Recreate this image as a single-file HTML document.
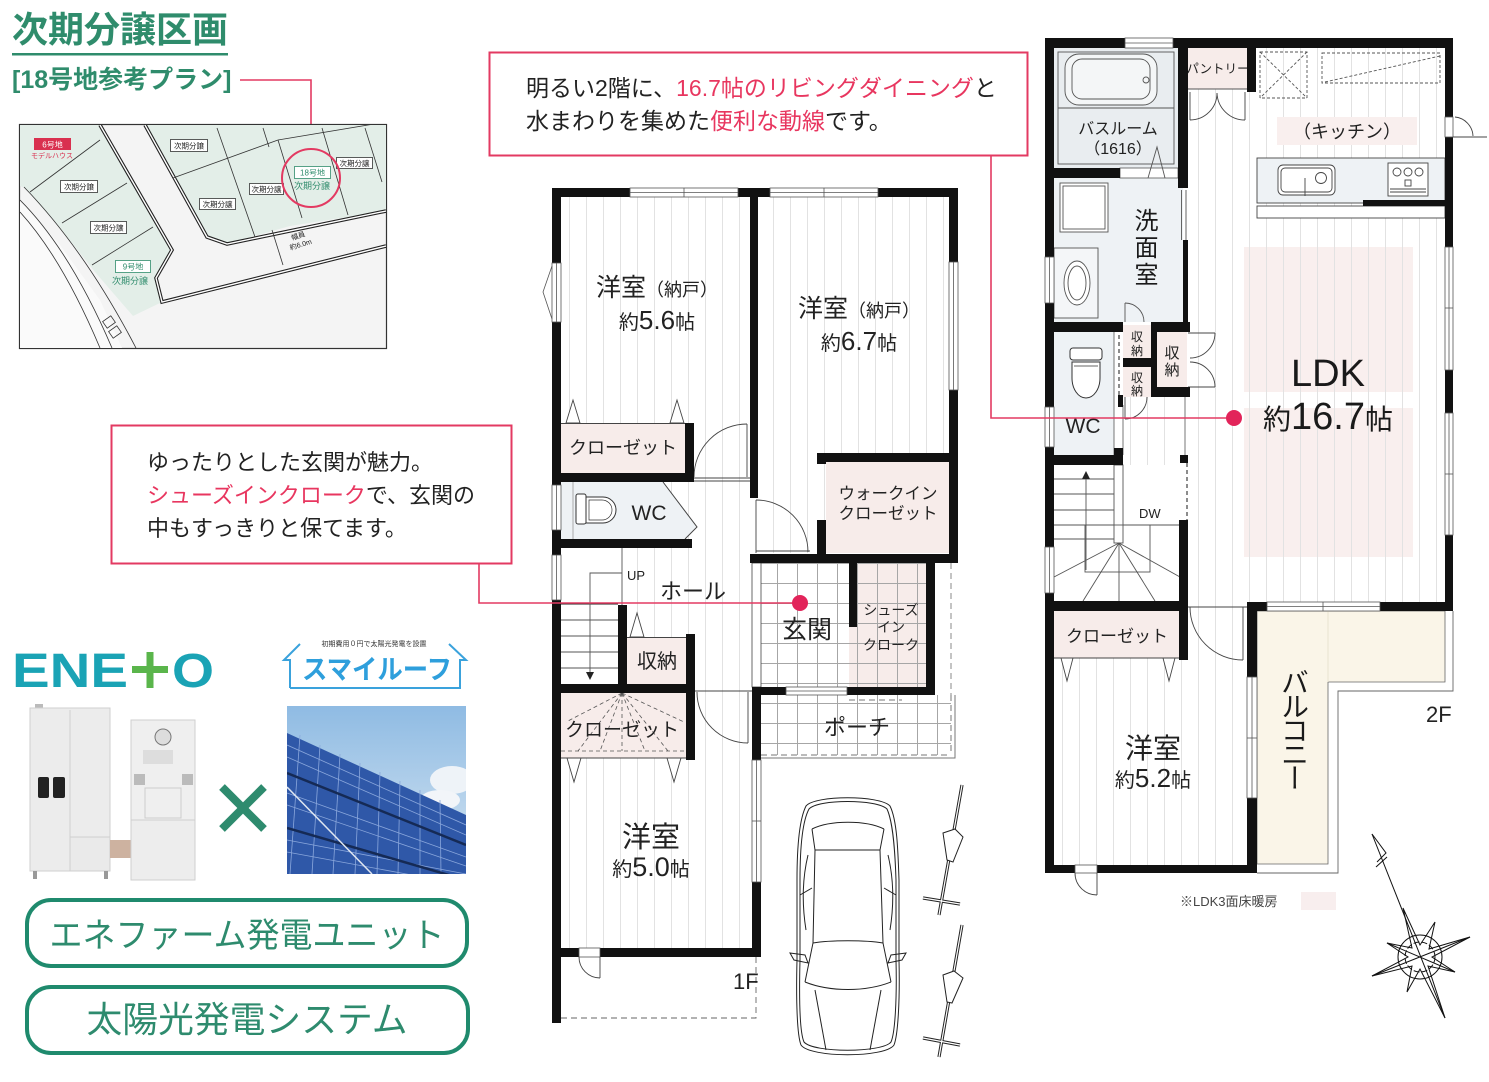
<!DOCTYPE html>
<html><head><meta charset="utf-8">
<style>
html,body{margin:0;padding:0;background:#fff;}
body{width:1489px;height:1082px;position:relative;overflow:hidden;font-family:"Liberation Sans","Noto Sans CJK JP",sans-serif;}
svg{position:absolute;left:0;top:0;}
.v{position:absolute;writing-mode:vertical-rl;font-family:"Liberation Sans","Noto Sans CJK JP",sans-serif;color:#1a1a1a;line-height:1;white-space:nowrap;}
</style></head><body>
<svg width="1489" height="1082" viewBox="0 0 1489 1082" style="font-family:'Liberation Sans','Noto Sans CJK JP',sans-serif">
<defs>
<pattern id="fl" patternUnits="userSpaceOnUse" width="17" height="10" x="0" y="0"><line x1="8.5" y1="0" x2="8.5" y2="10" stroke="#e2e2e2" stroke-width="1"/></pattern>
<pattern id="tile" patternUnits="userSpaceOnUse" width="20" height="20" x="757" y="563"><path d="M0,0.5H20M0.5,0V20" stroke="#a6a6a6" stroke-width="1" fill="none"/></pattern>
<linearGradient id="sky" x1="0" y1="0" x2="0" y2="1"><stop offset="0" stop-color="#8fbbe3"/><stop offset="1" stop-color="#d5e5f2"/></linearGradient>
<clipPath id="mapclip"><rect x="20" y="125" width="366" height="223"/></clipPath>
<clipPath id="solclip"><rect x="287" y="706" width="179" height="168"/></clipPath>
</defs>

<!-- ===== Title ===== -->
<text x="12" y="42" font-size="36" font-weight="bold" fill="#2f8c6c">次期分譲区画</text>
<rect x="12" y="53" width="216" height="2.5" fill="#2f8c6c"/>
<text x="12" y="88" font-size="25" font-weight="bold" fill="#2f8c6c">[18号地参考プラン]</text>
<polyline points="240,80 311,80 311,149" fill="none" stroke="#e33a62" stroke-width="1.6"/>

<!-- ===== Map ===== -->
<rect x="19.5" y="124.5" width="367" height="224" fill="#f4f4f4" stroke="#333" stroke-width="1.2"/>
<g clip-path="url(#mapclip)">
<polygon points="20,125 100,125 172,250 156,278 162,302 133,316 95,272 60,228 25,188 20,186" fill="#e3eee8"/>
<polygon points="145,125 386,125 386,211 290,226 227,244 207,237" fill="#e3eee8"/>
<polygon points="20,200 60,245 100,300 122,348 20,348" fill="#fafafa"/>
<g fill="none" stroke="#222">
<polyline points="100,125 172,250 156,278 162,302 386,246" stroke-width="3.6"/>
<polyline points="145,125 207,237 227,244 386,211" stroke-width="3.6"/>
</g>
<g fill="none" stroke="#fff">
<polyline points="100,125 172,250 156,278 162,302 386,246" stroke-width="1.4"/>
<polyline points="145,125 207,237 227,244 386,211" stroke-width="1.4"/>
</g>
<g fill="none" stroke="#333" stroke-width="0.8">
<path d="M24,187 Q85,250 136,348"/>
<path d="M20,200 Q70,250 112,348"/>
<path d="M20,212 Q62,258 100,348"/>
<line x1="30" y1="192" x2="100" y2="140"/>
<line x1="62" y1="223" x2="127" y2="183"/>
<line x1="92" y1="265" x2="153" y2="227"/>
<line x1="173" y1="178" x2="278" y2="140"/>
<line x1="278" y1="140" x2="386" y2="122"/>
<line x1="217" y1="128" x2="255" y2="237"/>
<line x1="263" y1="128" x2="269" y2="147"/>
<line x1="278" y1="140" x2="302" y2="218"/>
<line x1="322" y1="128" x2="348" y2="215"/>
<line x1="365" y1="128" x2="382" y2="182"/>
<line x1="272" y1="230" x2="283" y2="265"/>
<rect x="104" y="318" width="10" height="8" transform="rotate(-35 109 322)"/>
<rect x="110" y="328" width="10" height="8" transform="rotate(-35 115 332)"/>
</g>
</g>
<g font-size="7.5" text-anchor="middle" fill="#222">
<rect x="34" y="138" width="37" height="12" fill="#d9304f"/>
<text x="52.5" y="147.5" fill="#fff" font-size="8">6号地</text>
<text x="52" y="158" fill="#d9304f" font-size="7">モデルハウス</text>
<rect x="60.5" y="180.5" width="37" height="12" fill="#fff" stroke="#333" stroke-width="0.8"/><text x="79" y="189.5">次期分譲</text>
<rect x="90.5" y="221.5" width="36" height="12" fill="#fff" stroke="#333" stroke-width="0.8"/><text x="108.5" y="230.5">次期分譲</text>
<rect x="170.5" y="139.5" width="37" height="12" fill="#fff" stroke="#333" stroke-width="0.8"/><text x="189" y="148.5">次期分譲</text>
<rect x="199.5" y="198.5" width="36" height="11" fill="#fff" stroke="#333" stroke-width="0.8"/><text x="217.5" y="207">次期分譲</text>
<rect x="249.5" y="183.5" width="34" height="11" fill="#fff" stroke="#333" stroke-width="0.8"/><text x="266.5" y="192">次期分譲</text>
<rect x="336.5" y="157.5" width="36" height="11" fill="#fff" stroke="#333" stroke-width="0.8"/><text x="354.5" y="166">次期分譲</text>
<rect x="294.5" y="166.5" width="36" height="12" fill="#fff" stroke="#2f8c6c" stroke-width="0.8"/><text x="312.5" y="175.5" fill="#2f8c6c" font-size="8">18号地</text>
<text x="312" y="189" fill="#2f8c6c" font-size="9">次期分譲</text>
<rect x="115.5" y="260.5" width="35" height="12" fill="#fff" stroke="#2f8c6c" stroke-width="0.8"/><text x="133" y="269.5" fill="#2f8c6c" font-size="8">9号地</text>
<text x="130" y="284" fill="#2f8c6c" font-size="9">次期分譲</text>
<g transform="rotate(-17 300 242)"><text x="300" y="238" font-size="7">幅員</text><text x="300" y="247" font-size="7">約6.0m</text></g>
</g>
<circle cx="311" cy="178" r="29" fill="none" stroke="#e33a62" stroke-width="2"/>

<!-- ===== Callouts ===== -->
<rect x="489.5" y="52.5" width="538" height="103" fill="#fff" stroke="#e33a62" stroke-width="2"/>
<text x="526" y="96" font-size="23" fill="#222">明るい2階に、<tspan fill="#e8365f">16.7帖のリビングダイニング</tspan>と</text>
<text x="526" y="129" font-size="23" fill="#222">水まわりを集めた<tspan fill="#e8365f">便利な動線</tspan>です。</text>

<rect x="111.5" y="425.5" width="400" height="138" fill="#fff" stroke="#e33a62" stroke-width="2"/>
<text x="147" y="470" font-size="22" fill="#222">ゆったりとした玄関が魅力。</text>
<text x="147" y="503" font-size="22" fill="#222"><tspan fill="#e8365f">シューズインクローク</tspan>で、玄関の</text>
<text x="147" y="536" font-size="22" fill="#222">中もすっきりと保てます。</text>

<!-- ===== 1F floors ===== -->
<rect x="561" y="197" width="189" height="351" fill="url(#fl)"/>
<rect x="758" y="197" width="191" height="356" fill="url(#fl)"/>
<rect x="561" y="548" width="191" height="400" fill="url(#fl)"/>
<rect x="561" y="548" width="61" height="57" fill="#fff"/>

<!-- closet 5.6 -->
<rect x="561" y="423" width="124" height="50" fill="#f7ecea"/>
<line x1="561" y1="423.5" x2="685" y2="423.5" stroke="#444" stroke-width="1"/>
<g fill="#fff" stroke="#444" stroke-width="0.9">
<polygon points="566,423 573,400 580,423"/>
<polygon points="670,423 677,400 684,423"/>
</g>
<text x="623" y="454" font-size="18" text-anchor="middle" fill="#222">クローゼット</text>
<g fill="none" stroke="#444" stroke-width="0.9">
<path d="M747,424 A53,53 0 0 0 694,477"/>
<line x1="747" y1="424" x2="747" y2="477"/>
<line x1="694" y1="478" x2="750" y2="478"/>
<line x1="694" y1="481" x2="750" y2="481"/>
</g>

<!-- WC 1F -->
<polygon points="561,482 663,482 697,527 685,539 561,539" fill="#eef2f5"/>
<polyline points="663,482 697,527 685,539" fill="none" stroke="#444" stroke-width="1"/>
<line x1="573" y1="482" x2="573" y2="539" stroke="#999" stroke-width="0.8"/>
<rect x="576" y="494" width="10" height="30" rx="2" fill="#fff" stroke="#333"/>
<path d="M586,497 H603 A13,13 0 0 1 603,523 H586 Z" fill="#fff" stroke="#333"/>
<path d="M589,500 H602 A10,10 0 0 1 602,520 H589 Z" fill="none" stroke="#333" stroke-width="0.7"/>
<text x="649" y="520" font-size="21" text-anchor="middle" fill="#222">WC</text>

<!-- WIC -->
<rect x="826" y="462" width="123" height="91" fill="#f7ecea"/>
<text x="888" y="499" font-size="16.5" text-anchor="middle" fill="#222">ウォークイン</text>
<text x="888" y="519" font-size="16.5" text-anchor="middle" fill="#222">クローゼット</text>
<g fill="none" stroke="#444" stroke-width="0.9">
<path d="M756,500 A52,52 0 0 1 808,552"/>
<line x1="756" y1="500" x2="756" y2="553"/>
<line x1="756" y1="551" x2="810" y2="551"/>
</g>

<!-- stairs 1F -->
<rect x="561" y="605" width="57" height="79" fill="#fff"/>
<g stroke="#555" stroke-width="0.9">
<line x1="561" y1="604" x2="618" y2="604" stroke="#222"/>
<line x1="561" y1="620" x2="618" y2="620"/>
<line x1="561" y1="636" x2="618" y2="636"/>
<line x1="561" y1="652" x2="618" y2="652"/>
<line x1="561" y1="668" x2="618" y2="668"/>
<line x1="622" y1="548" x2="622" y2="605"/>
<polyline points="622,573 590,573 590,676" fill="none"/>
</g>
<polygon points="586,672 594,672 590,680" fill="#222"/>
<text x="627" y="580" font-size="13" fill="#222">UP</text>
<text x="693" y="599" font-size="22" text-anchor="middle" fill="#222">ホール</text>

<!-- 収納 1F -->
<rect x="627" y="637" width="59" height="47" fill="#f7ecea"/>
<line x1="627" y1="637.5" x2="686" y2="637.5" stroke="#444"/>
<polygon points="630,637 637,613 644,637" fill="#fff" stroke="#444" stroke-width="0.9"/>
<text x="657" y="668" font-size="20" text-anchor="middle" fill="#222">収納</text>

<!-- closet lower -->
<rect x="561" y="693" width="125" height="65" fill="#f7ecea"/>
<g stroke="#555" stroke-width="0.8" stroke-dasharray="4,3" fill="none">
<line x1="622" y1="693" x2="566" y2="722"/>
<line x1="622" y1="693" x2="578" y2="751"/>
<line x1="622" y1="693" x2="600" y2="751"/>
<line x1="622" y1="693" x2="645" y2="751"/>
<line x1="622" y1="693" x2="668" y2="751"/>
<line x1="622" y1="693" x2="684" y2="722"/>
<line x1="561" y1="751" x2="686" y2="751"/>
<line x1="622" y1="693" x2="622" y2="751"/>
</g>
<line x1="561" y1="758" x2="686" y2="758" stroke="#444"/>
<g fill="#fff" stroke="#444" stroke-width="0.9">
<polygon points="567,758 574,782 581,758"/>
<polygon points="667,758 674,782 681,758"/>
</g>
<text x="622" y="736" font-size="19" text-anchor="middle" fill="#222">クローゼット</text>
<g fill="none" stroke="#444" stroke-width="0.9">
<path d="M697,692 A51,51 0 0 0 748,743"/>
<line x1="748" y1="692" x2="748" y2="743"/>
<line x1="695" y1="691" x2="752" y2="691"/>
</g>

<!-- 洋室 5.0 -->
<text x="651" y="847" font-size="29" text-anchor="middle" fill="#222">洋室</text>
<text x="651" y="876" text-anchor="middle" fill="#222"><tspan font-size="20">約</tspan><tspan font-size="27">5.0</tspan><tspan font-size="20">帖</tspan></text>
<!-- 洋室 5.6 / 6.7 -->
<text x="657" y="296" text-anchor="middle" fill="#222"><tspan font-size="25">洋室</tspan><tspan font-size="18">（納戸）</tspan></text>
<text x="657" y="329" text-anchor="middle" fill="#222"><tspan font-size="20">約</tspan><tspan font-size="26">5.6</tspan><tspan font-size="20">帖</tspan></text>
<text x="859" y="317" text-anchor="middle" fill="#222"><tspan font-size="25">洋室</tspan><tspan font-size="18">（納戸）</tspan></text>
<text x="859" y="350" text-anchor="middle" fill="#222"><tspan font-size="20">約</tspan><tspan font-size="26">6.7</tspan><tspan font-size="20">帖</tspan></text>

<!-- 玄関 -->
<rect x="761" y="563" width="88" height="124" fill="#fff"/>
<rect x="857" y="563" width="69" height="64" fill="#f7ecea"/>
<rect x="849" y="627" width="77" height="60" fill="#f7ecea"/>
<rect x="761" y="563" width="165" height="124" fill="url(#tile)"/>
<rect x="752" y="563" width="9" height="124" fill="#fff" stroke="#444" stroke-width="0.8"/>
<text x="807" y="638" font-size="25" text-anchor="middle" fill="#222">玄関</text>
<g font-size="14" text-anchor="middle" fill="#222">
<text x="891" y="615">シューズ</text><text x="891" y="632">イン</text><text x="891" y="650">クローク</text>
</g>
<line x1="951" y1="563" x2="951" y2="695" stroke="#888" stroke-width="1" stroke-dasharray="6,4"/>
<!-- porch -->
<rect x="761" y="695" width="190" height="60" fill="url(#tile)"/>
<g fill="none" stroke="#777" stroke-width="1">
<polyline points="761,758 955,758 955,695"/>
<line x1="761" y1="755" x2="951" y2="755" stroke-dasharray="6,4"/>
<line x1="951" y1="695" x2="951" y2="755" stroke-dasharray="6,4"/>
<line x1="849" y1="700" x2="902" y2="700" stroke-dasharray="6,4"/>
</g>
<text x="857" y="735" font-size="22" text-anchor="middle" fill="#222">ポーチ</text>

<!-- 1F walls -->
<g fill="#111">
<rect x="552" y="188" width="406" height="9"/>
<rect x="552" y="188" width="9" height="835"/>
<rect x="750" y="188" width="8" height="310"/>
<rect x="949" y="188" width="9" height="375"/>
<rect x="685" y="423" width="9" height="59"/>
<rect x="552" y="473" width="142" height="9"/>
<rect x="552" y="539" width="140" height="9"/>
<rect x="817" y="453" width="141" height="9"/>
<rect x="817" y="453" width="9" height="11"/>
<rect x="817" y="520" width="9" height="43"/>
<rect x="750" y="554" width="208" height="9"/>
<rect x="618" y="605" width="9" height="85"/>
<rect x="686" y="634" width="9" height="126"/>
<rect x="552" y="684" width="143" height="9"/>
<rect x="752" y="687" width="9" height="73"/>
<rect x="752" y="882" width="9" height="75"/>
<rect x="552" y="948" width="209" height="9"/>
<rect x="849" y="563" width="8" height="64"/>
<rect x="926" y="563" width="9" height="132"/>
<rect x="752" y="687" width="34" height="8"/>
<rect x="847" y="687" width="88" height="8"/>
</g>
<!-- 1F windows/openings -->
<g fill="#fff" stroke="#555" stroke-width="0.8">
<rect x="630" y="188" width="108" height="9"/><line x1="630" y1="192.5" x2="738" y2="192.5"/><line x1="684" y1="188" x2="684" y2="197"/>
<rect x="770" y="188" width="108" height="9"/><line x1="770" y1="192.5" x2="878" y2="192.5"/><line x1="824" y1="188" x2="824" y2="197"/>
<rect x="552" y="263" width="9" height="59"/><line x1="556.5" y1="263" x2="556.5" y2="322"/>
<polyline points="552,266 543,292 552,319" fill="none"/>
<rect x="552" y="485" width="9" height="45"/><line x1="556.5" y1="485" x2="556.5" y2="530"/>
<rect x="552" y="555" width="9" height="45"/><line x1="556.5" y1="555" x2="556.5" y2="600"/>
<rect x="949" y="262" width="9" height="128"/><line x1="953.5" y1="262" x2="953.5" y2="390"/>
<rect x="752" y="760" width="9" height="122"/><line x1="756.5" y1="760" x2="756.5" y2="882"/><line x1="752" y1="821" x2="761" y2="821"/>
<rect x="786" y="687" width="61" height="8"/><line x1="786" y1="691" x2="847" y2="691"/>
<rect x="579" y="948" width="21" height="9"/>
</g>
<g fill="none" stroke="#444" stroke-width="0.9">
<path d="M579,957 A21,21 0 0 0 600,978"/>
<line x1="600" y1="957" x2="600" y2="978"/>
<polyline points="561,1018 756,1018 756,957" stroke="#666" stroke-dasharray="6,4"/>
</g>
<text x="733" y="989" font-size="22" fill="#222">1F</text>

<!-- car -->
<g fill="none" stroke="#222" stroke-width="1">
<path d="M806,806 C815,795 880,795 890,806 C897,820 898,850 899,880 L899,960 C900,1000 898,1035 894,1045 C885,1058 810,1058 801,1045 C797,1035 796,1000 797,960 L797,880 C797,850 799,820 806,806 Z"/>
<path d="M809,809 C818,799 877,799 887,809 C893,822 895,850 896,880 L896,960 C897,1000 895,1033 891,1042 C882,1053 813,1053 804,1042 C800,1033 799,1000 800,960 L800,880 C800,850 802,822 809,809 Z"/>
<path d="M812,829 C830,820 866,820 884,829"/>
<line x1="815" y1="850" x2="880" y2="850"/>
<path d="M813,943 C830,940 866,940 883,943"/>
<path d="M805,982 C830,992 866,992 891,982"/>
<polyline points="812,829 815,850 813,943 805,982"/>
<polyline points="884,829 880,850 883,943 891,982"/>
<path d="M808,855 C802,880 802,905 806,930"/>
<path d="M888,855 C894,880 894,905 890,930"/>
<line x1="815" y1="990" x2="826" y2="1050"/>
<line x1="881" y1="990" x2="870" y2="1050"/>
<polygon points="790,953 805,955 808,963 794,960"/>
<polygon points="906,953 891,955 888,963 902,960"/>
<line x1="800" y1="895" x2="812" y2="888"/>
<line x1="896" y1="895" x2="884" y2="888"/>
</g>
<!-- bikes -->
<g fill="none" stroke="#222" stroke-width="3.2" stroke-linecap="butt">
<line x1="962" y1="785" x2="939" y2="915"/>
<line x1="923" y1="898" x2="960" y2="904"/>
<line x1="962" y1="925" x2="939" y2="1057"/>
<line x1="923" y1="1038" x2="960" y2="1045"/>
</g>
<g fill="none" stroke="#fff" stroke-width="1.2">
<line x1="962" y1="785" x2="939" y2="915"/>
<line x1="923" y1="898" x2="960" y2="904"/>
<line x1="962" y1="925" x2="939" y2="1057"/>
<line x1="923" y1="1038" x2="960" y2="1045"/>
</g>
<g fill="#fff" stroke="#222" stroke-width="1">
<polygon points="943,833 955,829 963,837 953,862 947,860"/>
<polygon points="943,975 954,971 963,978 952,1003 947,1002"/>
</g>

<!-- ===== 2F ===== -->
<rect x="1244" y="247" width="169" height="310" fill="#f9efee"/>
<rect x="1244" y="392" width="169" height="16" fill="#fff"/>
<rect x="1188" y="48" width="257" height="563" fill="url(#fl)"/>
<rect x="1188" y="611" width="59" height="49" fill="url(#fl)"/>
<rect x="1123" y="397" width="57" height="128" fill="url(#fl)"/>
<rect x="1054" y="658" width="193" height="207" fill="url(#fl)"/>

<!-- bathroom -->
<rect x="1054" y="48" width="124" height="120" fill="#e9edf0"/>
<g fill="none" stroke="#555" stroke-width="0.9">
<rect x="1058" y="52" width="116" height="112"/>
<rect x="1065" y="54" width="92" height="51" rx="14" fill="#f4f6f7"/>
<rect x="1072" y="59" width="78" height="40" rx="10"/>
<circle cx="1146" cy="80" r="3"/>
<line x1="1058" y1="108" x2="1174" y2="108"/>
</g>
<text x="1118" y="134" font-size="16" text-anchor="middle" fill="#222">バスルーム</text>
<text x="1118" y="154" font-size="16" text-anchor="middle" fill="#222">（1616）</text>

<!-- pantry -->
<rect x="1188" y="48" width="59" height="41" fill="#f7ecea"/>
<line x1="1188" y1="89" x2="1247" y2="89" stroke="#555"/>
<text x="1218" y="73" font-size="12.5" text-anchor="middle" fill="#222">パントリー</text>
<g fill="none" stroke="#444" stroke-width="0.9">
<line x1="1190" y1="92" x2="1190" y2="120"/>
<line x1="1245" y1="92" x2="1245" y2="120"/>
<path d="M1190,120 A27,27 0 0 0 1217,93"/>
<path d="M1245,120 A28,28 0 0 1 1217,93"/>
</g>

<!-- kitchen -->
<g fill="none" stroke="#555" stroke-width="0.9" stroke-dasharray="3,2">
<rect x="1260" y="52" width="47" height="46"/>
<line x1="1260" y1="52" x2="1307" y2="98"/>
<line x1="1307" y1="52" x2="1260" y2="98"/>
<rect x="1322" y="53" width="118" height="30"/>
<line x1="1325" y1="82" x2="1440" y2="56"/>
</g>
<rect x="1277" y="117" width="140" height="28" fill="#f9efee"/>
<text x="1347" y="138" font-size="18" text-anchor="middle" fill="#222">（キッチン）</text>
<rect x="1257" y="158" width="188" height="45" fill="#eef2f5" stroke="#444" stroke-width="0.9"/>
<rect x="1257" y="206" width="188" height="12" fill="#fff" stroke="#444" stroke-width="0.9"/>
<g fill="none" stroke="#444" stroke-width="0.9">
<rect x="1278" y="165" width="57" height="30" rx="5" fill="#fff"/>
<rect x="1281" y="168" width="51" height="24" rx="4"/>
<circle cx="1321" cy="178" r="5.5"/>
<line x1="1305" y1="178" x2="1305" y2="196"/>
<rect x="1388" y="163" width="40" height="33" fill="#fff"/>
<circle cx="1397" cy="172" r="4"/><circle cx="1408" cy="172" r="4"/><circle cx="1419" cy="172" r="4"/>
<rect x="1405" y="180" width="6" height="6"/>
<line x1="1390" y1="189" x2="1426" y2="189"/><line x1="1390" y1="192" x2="1426" y2="192"/>
</g>
<rect x="1363" y="200" width="82" height="6" fill="#111"/>

<!-- LDK text -->
<text x="1328" y="386" font-size="38" text-anchor="middle" fill="#1a1a1a">LDK</text>
<text x="1328" y="429" text-anchor="middle" fill="#1a1a1a"><tspan font-size="28">約</tspan><tspan font-size="38">16.7</tspan><tspan font-size="28">帖</tspan></text>

<!-- washroom -->
<rect x="1054" y="178" width="129" height="144" fill="#eef2f5"/>
<rect x="1120" y="168" width="58" height="10" fill="#fff" stroke="#555" stroke-width="0.8"/>
<g fill="none" stroke="#555" stroke-width="0.9">
<polyline points="1148,178 1157,147 1165,178"/>
<rect x="1060" y="183" width="48" height="49" fill="#fff"/>
<rect x="1063" y="186" width="42" height="43"/>
<rect x="1054" y="248" width="44" height="70" fill="#f4f6f8"/>
<ellipse cx="1077" cy="283" rx="13" ry="22" fill="#fff"/>
<ellipse cx="1077" cy="283" rx="9" ry="17"/>
<line x1="1181.5" y1="190" x2="1181.5" y2="240"/>
<line x1="1186" y1="190" x2="1186" y2="240"/>
<line x1="1125" y1="303" x2="1125" y2="322"/>
<path d="M1125,303 A19,19 0 0 1 1144,322"/>
</g>

<!-- 収納 2F -->
<rect x="1123" y="325" width="28" height="33" fill="#f7ecea"/>
<rect x="1123" y="367" width="28" height="30" fill="#f7ecea"/>
<rect x="1157" y="332" width="30" height="55" fill="#f7ecea"/>
<g font-size="12" text-anchor="middle" fill="#222">
<text x="1137" y="341">収</text><text x="1137" y="355">納</text>
<text x="1137" y="382">収</text><text x="1137" y="395">納</text>
</g>
<g font-size="15" text-anchor="middle" fill="#222">
<text x="1172" y="358">収</text><text x="1172" y="375">納</text>
</g>
<g fill="none" stroke="#444" stroke-width="0.9">
<line x1="1188" y1="333" x2="1215" y2="333"/>
<line x1="1188" y1="387" x2="1215" y2="387"/>
<path d="M1215,333 A25,25 0 0 1 1190,358"/>
<path d="M1215,387 A25,25 0 0 0 1190,362"/>
<line x1="1125" y1="397" x2="1125" y2="419"/>
<path d="M1147,397 A22,22 0 0 1 1125,419"/>
</g>

<!-- WC 2F -->
<rect x="1054" y="332" width="60" height="123" fill="#eef2f5"/>
<line x1="1114" y1="332" x2="1114" y2="455" stroke="#555" stroke-width="0.8"/>
<line x1="1119" y1="335" x2="1119" y2="395" stroke="#666" stroke-width="1.5" stroke-dasharray="4,3"/>
<line x1="1123" y1="405" x2="1123" y2="455" stroke="#555" stroke-width="0.8"/>
<line x1="1185" y1="397" x2="1185" y2="455" stroke="#555" stroke-width="0.8"/>
<line x1="1187" y1="463" x2="1187" y2="520" stroke="#666" stroke-width="1.5" stroke-dasharray="4,3"/>
<rect x="1070" y="348" width="32" height="12" rx="3" fill="#fff" stroke="#333"/>
<path d="M1072,362 H1100 V378 A14,20 0 0 1 1072,378 Z" fill="#fff" stroke="#333"/>
<line x1="1074" y1="366" x2="1098" y2="366" stroke="#333" stroke-width="0.7"/>
<text x="1083" y="433" font-size="21" text-anchor="middle" fill="#222">WC</text>

<!-- stairs 2F -->
<rect x="1054" y="465" width="126" height="136" fill="#fff"/>
<g stroke="#555" stroke-width="0.9" fill="none">
<line x1="1054" y1="479" x2="1114" y2="479"/>
<line x1="1054" y1="494" x2="1114" y2="494"/>
<line x1="1054" y1="510" x2="1114" y2="510"/>
<line x1="1054" y1="525" x2="1114" y2="525"/>
<line x1="1054" y1="539" x2="1114" y2="539"/>
<rect x="1114" y="465" width="9" height="78" fill="#fff"/>
<line x1="1119" y1="543" x2="1054" y2="577"/>
<line x1="1119" y1="543" x2="1083" y2="601"/>
<line x1="1119" y1="543" x2="1155" y2="601"/>
<line x1="1119" y1="543" x2="1180" y2="577"/>
<line x1="1119" y1="543" x2="1119" y2="601"/>
<rect x="1085" y="525" width="65" height="47"/>
<line x1="1123" y1="525" x2="1180" y2="525"/>
<line x1="1086" y1="570" x2="1086" y2="478"/>
</g>
<polygon points="1082,479 1090,479 1086,471" fill="#222"/>
<text x="1139" y="518" font-size="13" fill="#222">DW</text>

<!-- closet 2F -->
<rect x="1054" y="611" width="125" height="47" fill="#f7ecea"/>
<line x1="1054" y1="658" x2="1179" y2="658" stroke="#444"/>
<g fill="#fff" stroke="#444" stroke-width="0.9">
<polygon points="1061,658 1067,681 1073,658"/>
<polygon points="1163,658 1169,681 1175,658"/>
</g>
<text x="1117" y="642" font-size="17" text-anchor="middle" fill="#222">クローゼット</text>
<g fill="none" stroke="#444" stroke-width="0.9">
<line x1="1188" y1="607" x2="1247" y2="607"/>
<line x1="1243" y1="607" x2="1243" y2="660"/>
<path d="M1190,607 A53,53 0 0 0 1243,660"/>
</g>

<!-- 洋室 5.2 -->
<text x="1153" y="758" font-size="28" text-anchor="middle" fill="#222">洋室</text>
<text x="1153" y="787" text-anchor="middle" fill="#222"><tspan font-size="20">約</tspan><tspan font-size="26">5.2</tspan><tspan font-size="20">帖</tspan></text>

<!-- balcony -->
<polygon points="1257,611 1445,611 1445,682 1328,682 1328,864 1257,864" fill="#faf5e8" stroke="#666" stroke-width="0.8"/>
<line x1="1328" y1="611" x2="1328" y2="682" stroke="#e8e2d0" stroke-width="1"/>
<polyline points="1453,611 1453,691 1338,691 1338,873 1257,873" fill="none" stroke="#666" stroke-width="0.9"/>

<!-- 2F walls -->
<g fill="#111">
<rect x="1045" y="38" width="408" height="10"/>
<rect x="1045" y="38" width="9" height="835"/>
<rect x="1445" y="38" width="8" height="573"/>
<rect x="1178" y="38" width="10" height="150"/>
<rect x="1247" y="38" width="9" height="54"/>
<rect x="1045" y="168" width="75" height="10"/>
<rect x="1183" y="240" width="5" height="92"/>
<rect x="1045" y="322" width="78" height="10"/>
<rect x="1114" y="322" width="9" height="10"/>
<rect x="1151" y="322" width="39" height="10"/>
<rect x="1151" y="322" width="6" height="75"/>
<rect x="1151" y="387" width="39" height="10"/>
<rect x="1123" y="358" width="28" height="9"/>
<rect x="1118" y="395" width="5" height="12"/>
<rect x="1114" y="448" width="9" height="17"/>
<rect x="1045" y="455" width="78" height="10"/>
<rect x="1180" y="455" width="8" height="8"/>
<rect x="1179" y="520" width="9" height="140"/>
<rect x="1045" y="601" width="143" height="10"/>
<rect x="1247" y="602" width="206" height="9"/>
<rect x="1247" y="602" width="10" height="271"/>
<rect x="1045" y="865" width="212" height="8"/>
</g>
<g fill="#fff" stroke="#555" stroke-width="0.8">
<rect x="1125" y="38" width="48" height="10"/><line x1="1125" y1="43" x2="1173" y2="43"/>
<rect x="1445" y="117" width="8" height="20"/>
<rect x="1445" y="247" width="8" height="123"/><line x1="1449" y1="247" x2="1449" y2="370"/><line x1="1445" y1="308" x2="1453" y2="308"/>
<rect x="1445" y="413" width="8" height="122"/><line x1="1449" y1="413" x2="1449" y2="535"/><line x1="1445" y1="474" x2="1453" y2="474"/>
<rect x="1267" y="602" width="113" height="9"/><line x1="1267" y1="606.5" x2="1380" y2="606.5"/><line x1="1323" y1="602" x2="1323" y2="611"/>
<rect x="1247" y="677" width="10" height="121"/><line x1="1252" y1="677" x2="1252" y2="798"/><line x1="1247" y1="738" x2="1257" y2="738"/>
<rect x="1045" y="257" width="9" height="46"/><line x1="1049.5" y1="257" x2="1049.5" y2="303"/>
<rect x="1045" y="407" width="9" height="40"/><line x1="1049.5" y1="407" x2="1049.5" y2="447"/>
<rect x="1045" y="547" width="9" height="46"/><line x1="1049.5" y1="547" x2="1049.5" y2="593"/>
<rect x="1075" y="865" width="22" height="8"/>
</g>
<g fill="none" stroke="#444" stroke-width="0.9">
<path d="M1455,117 A20,20 0 0 1 1473,136"/>
<line x1="1453" y1="137" x2="1487" y2="137"/>
<path d="M1075,873 A22,22 0 0 0 1097,895"/>
<line x1="1097" y1="873" x2="1097" y2="895"/>
</g>
<text x="1426" y="722" font-size="22" fill="#222">2F</text>
<text x="1180" y="906" font-size="13" fill="#444">※LDK3面床暖房</text>
<rect x="1301" y="892" width="35" height="18" fill="#f8eeee"/>

<!-- compass -->
<g fill="none" stroke="#111" stroke-width="1">
<line x1="1372" y1="834" x2="1445" y2="1018"/>
<polyline points="1372,834 1386,853 1377,862"/>
<line x1="1376" y1="867" x2="1387" y2="857"/>
<polygon points="1403,908 1420,945 1435,922 1429,949 1470,937 1432,957 1455,972 1428,966 1445,1018 1420,969 1407,992 1412,966 1372,976 1408,957 1387,943 1412,948"/>
<circle cx="1420" cy="957" r="22"/>
<circle cx="1420" cy="957" r="15" stroke-dasharray="6,2"/>
<line x1="1387" y1="943" x2="1455" y2="972"/>
<line x1="1372" y1="976" x2="1470" y2="937"/>
</g>

<!-- red connectors -->
<polyline points="991,155 991,418 1234,418" fill="none" stroke="#e33a62" stroke-width="1.6"/>
<circle cx="1234" cy="418" r="8" fill="#e2245a"/>
<polyline points="479,564 479,603 800,603" fill="none" stroke="#e33a62" stroke-width="1.6"/>
<circle cx="800" cy="603" r="8" fill="#e2245a"/>

<!-- ===== Bottom-left: ENE+O ===== -->
<text x="12" y="687" font-size="48" font-weight="bold" fill="#1aa3b5" textLength="116" lengthAdjust="spacingAndGlyphs">ENE</text>
<rect x="132" y="666" width="36" height="7" fill="#5ab54b"/>
<rect x="146.5" y="652" width="7" height="36" fill="#5ab54b"/>
<text x="172" y="687" font-size="48" font-weight="bold" fill="#1aa3b5" textLength="42" lengthAdjust="spacingAndGlyphs">O</text>

<!-- スマイルーフ -->
<path d="M290,688 V660 H284 L300,644 M449,644 L466,660 H460 V688 H290" fill="none" stroke="#3aa2dc" stroke-width="2"/>
<text x="374" y="646" font-size="7" text-anchor="middle" fill="#333">初期費用０円で太陽光発電を設置</text>
<text x="302" y="679" font-size="27" font-weight="bold" fill="#2e9fdc" textLength="150" lengthAdjust="spacingAndGlyphs">スマイルーフ</text>

<!-- fuel cell units -->
<rect x="35" y="704" width="8" height="4" fill="#bbb"/>
<rect x="30" y="708" width="80" height="163" fill="#ececec" stroke="#cfcfcf"/>
<line x1="70" y1="710" x2="70" y2="871" stroke="#cfcfcf"/>
<rect x="70" y="837" width="40" height="34" fill="#eaeaea" stroke="#cfcfcf"/>
<rect x="38" y="777" width="11" height="21" rx="2" fill="#222"/>
<rect x="53" y="777" width="12" height="21" rx="2" fill="#222"/>
<rect x="33" y="871" width="4" height="8" fill="#999"/>
<rect x="104" y="871" width="4" height="8" fill="#999"/>
<rect x="110" y="840" width="21" height="18" fill="#cdb2a0"/>
<rect x="131" y="720" width="64" height="100" fill="#efefef" stroke="#cfcfcf"/>
<rect x="131" y="820" width="64" height="60" fill="#ededed" stroke="#cfcfcf"/>
<circle cx="163" cy="737" r="8" fill="#ddd" stroke="#777"/>
<rect x="145" y="788" width="36" height="30" fill="none" stroke="#ccc"/>
<rect x="134" y="774" width="11" height="11" fill="#bbb"/>
<rect x="182" y="774" width="11" height="11" fill="#bbb"/>
<rect x="143" y="750" width="30" height="14" fill="#ddd"/>

<!-- × -->
<g stroke="#2e8b6e" stroke-width="8">
<line x1="222" y1="787" x2="264" y2="829"/>
<line x1="264" y1="787" x2="222" y2="829"/>
</g>

<!-- solar photo -->
<g clip-path="url(#solclip)">
<rect x="287" y="706" width="179" height="168" fill="url(#sky)"/>
<ellipse cx="452" cy="780" rx="22" ry="14" fill="#eef3f8"/>
<ellipse cx="440" cy="800" rx="20" ry="10" fill="#f2f5f9"/>
<polygon points="287,733 466,815 466,874 287,874" fill="#2f58a8"/>
<g stroke="#8aa7dc" stroke-width="0.8">
<line x1="287" y1="745" x2="466" y2="825"/>
<line x1="287" y1="757" x2="466" y2="835"/>
<line x1="287" y1="793" x2="466" y2="857"/>
<line x1="287" y1="805" x2="466" y2="866"/>
<line x1="287" y1="840" x2="466" y2="874"/>
<line x1="287" y1="852" x2="466" y2="885"/>
<line x1="300" y1="735" x2="290" y2="874"/>
<line x1="320" y1="745" x2="312" y2="874"/>
<line x1="340" y1="754" x2="333" y2="874"/>
<line x1="360" y1="763" x2="355" y2="874"/>
<line x1="380" y1="772" x2="377" y2="874"/>
<line x1="400" y1="781" x2="398" y2="874"/>
<line x1="420" y1="790" x2="420" y2="874"/>
<line x1="440" y1="800" x2="441" y2="874"/>
</g>
<g stroke="#152a55" stroke-width="2.5">
<line x1="287" y1="773" x2="466" y2="845"/>
<line x1="287" y1="828" x2="466" y2="880"/>
</g>
<line x1="287" y1="787" x2="372" y2="874" stroke="#dfe6f0" stroke-width="1.5"/>
</g>

<!-- buttons -->
<rect x="27" y="900" width="440" height="66" rx="24" fill="#fff" stroke="#1f8a6d" stroke-width="4"/>
<text x="247" y="947" font-size="34" text-anchor="middle" fill="#2e8b6e" textLength="395" lengthAdjust="spacingAndGlyphs">エネファーム発電ユニット</text>
<rect x="27" y="987" width="441" height="66" rx="24" fill="#fff" stroke="#1f8a6d" stroke-width="4"/>
<text x="247" y="1032" font-size="36" text-anchor="middle" fill="#2e8b6e" textLength="321" lengthAdjust="spacingAndGlyphs">太陽光発電システム</text>
</svg>

<div class="v" style="left:1131px;top:208px;font-size:24px;letter-spacing:3px;">洗面室</div>
<div class="v" style="left:1279px;top:668px;font-size:28px;letter-spacing:-4px;">バルコニー</div>
</body></html>
